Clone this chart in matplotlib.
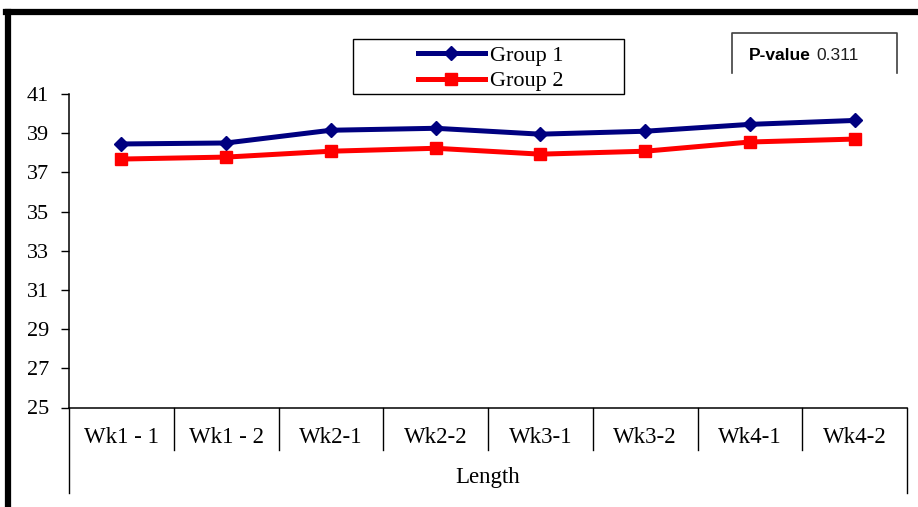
import numpy as np
from matplotlib import pyplot as plt
from matplotlib.lines import Line2D
from matplotlib.patches import Rectangle

categories = ["Wk1 - 1", "Wk1 - 2", "Wk2-1", "Wk2-2", "Wk3-1", "Wk3-2", "Wk4-1", "Wk4-2"]
group1 = [38.45, 38.5, 39.15, 39.25, 38.95, 39.1, 39.45, 39.65]
group2 = [37.68, 37.78, 38.08, 38.23, 37.93, 38.08, 38.55, 38.7]
y_ticks = [25, 27, 29, 31, 33, 35, 37, 39, 41]
p_value = "0.311"

W, H = 918, 507
serif = ["Liberation Serif", "DejaVu Serif"]

fig = plt.figure(figsize=(W / 100, H / 100), dpi=100)


def fx(px):
    return px / W


def fy(py):
    return 1 - py / H


ax = fig.add_axes([fx(69), fy(407.5), fx(907) - fx(69), fy(94) - fy(407.5)])
x = np.arange(len(categories))

ax.plot(x, group1, color="#000080", lw=3.6, marker="D", ms=7.5, label="Group 1")
ax.plot(x, group2, color="#ff0000", lw=3.6, marker="s", ms=9, label="Group 2")

ax.set_xlim(-0.5, len(categories) - 0.5)
ax.set_ylim(25, 41)
ax.set_yticks(y_ticks)
ax.set_yticklabels([str(t) for t in y_ticks], family=serif, fontsize=16)
ax.tick_params(axis="y", length=5.5, width=1, pad=9, direction="out")
ax.set_xticks(x)
ax.set_xticklabels(categories, family=serif, fontsize=16.5)
ax.tick_params(axis="x", length=0, pad=14)
ax.spines["top"].set_visible(False)
ax.spines["right"].set_visible(False)
for s in ["left", "bottom"]:
    ax.spines[s].set_linewidth(1.1)

# category separators below the axis
tr = ax.get_xaxis_transform()
h = 407.5 - 94
short = -(450 - 407.5) / h
long = -(493 - 407.5) / h
for k in range(len(categories) + 1):
    xs = k - 0.5
    y1 = long if k in (0, len(categories)) else short
    ax.plot([xs, xs], [0, y1], transform=tr, color="black", lw=1, clip_on=False)

ax.text(0.5, -(478 - 407.5) / h, "Length", transform=ax.transAxes, ha="center",
        va="center", family=serif, fontsize=16.5)

# legend
fig.add_artist(Rectangle((fx(353), fy(94)), fx(624) - fx(353), fy(39) - fy(94),
                         transform=fig.transFigure, fill=False, ec="black", lw=1))
leg = ax.legend(loc="center", bbox_to_anchor=(fx(491), fy(68.5)),
                bbox_transform=fig.transFigure, frameon=False,
                prop={"family": serif, "size": 16}, handlelength=3.0,
                handletextpad=0.25, labelspacing=0.2, borderpad=0)

# p-value box (open at bottom)
for xs, ys in [([732, 732, 897, 897], [73, 33, 33, 73])]:
    fig.add_artist(Line2D([fx(v) for v in xs], [fy(v) for v in ys], color="#404040", lw=1.2))
fig.text(fx(749), fy(55), "P-value", fontweight="bold", family="Liberation Sans",
         fontsize=12.5, va="center", ha="left")
fig.text(fx(816), fy(55), p_value, family="Liberation Sans", fontsize=12.5,
         va="center", ha="left", color="#202020")

# thick outer frame
fig.add_artist(Line2D([fx(8), fx(8)], [fy(H), fy(12)], color="black", lw=4.5))
fig.add_artist(Line2D([fx(5.5), fx(W)], [fy(12), fy(12)], color="black", lw=4.5))

fig.savefig("out.png", dpi=100)
